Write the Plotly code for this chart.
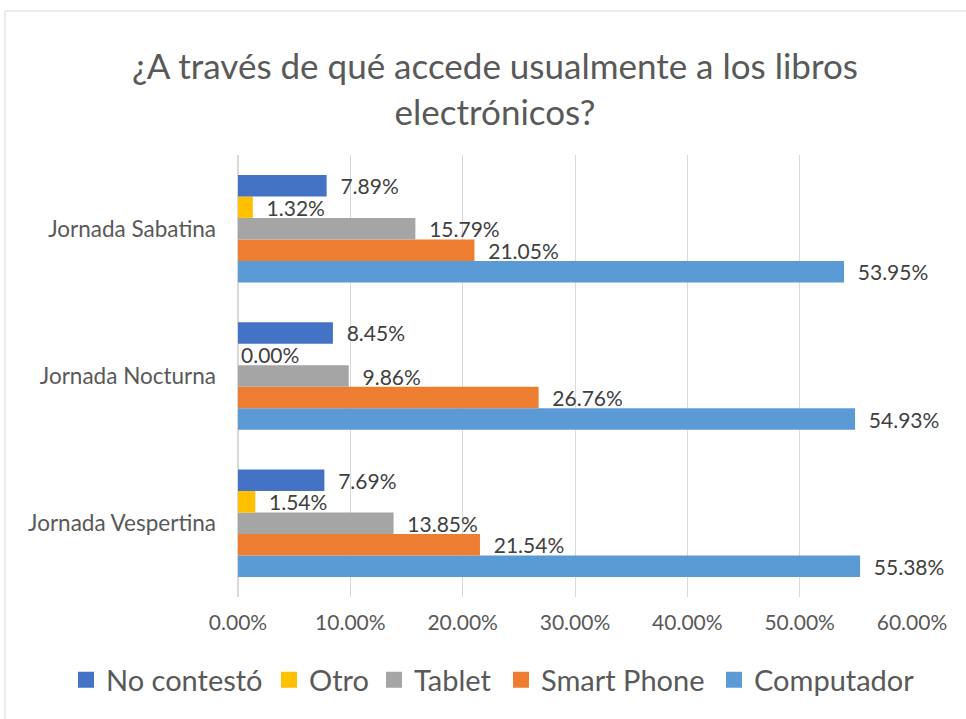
import plotly.graph_objects as go

categories = ["Jornada Vespertina", "Jornada Nocturna", "Jornada Sabatina"]
series_names = ["Computador", "Smart Phone", "Tablet", "Otro", "No contestó"]
computador = [0.5538, 0.5493, 0.5395]
smart_phone = [0.2154, 0.2676, 0.2105]
tablet = [0.1385, 0.0986, 0.1579]
otro = [0.0154, 0.0000, 0.0132]
no_contesto = [0.0769, 0.0845, 0.0789]
tick_vals = [0, 0.1, 0.2, 0.3, 0.4, 0.5, 0.6]

values = [computador, smart_phone, tablet, otro, no_contesto]
colors = ["#5B9BD5", "#ED7D31", "#A5A5A5", "#FFC000", "#4472C4"]
FONT = "Lato"
GAP = "\u00a0\u00a0"

W, H = 966, 719
l, r, t, b = 238, 54, 155, 122
pw, ph = W - l - r, H - t - b

fig = go.Figure()
for name, vals, col in zip(series_names, values, colors):
    fig.add_trace(go.Bar(
        y=categories, x=vals, name=name, orientation="h",
        marker=dict(color=col, line=dict(width=0)),
        text=[(GAP if v > 0 else "") + f"{v * 100:.2f}%" for v in vals],
        textposition="outside", texttemplate="%{text}",
        constraintext="none",
        textfont=dict(size=21, color="#404040", family=FONT),
        cliponaxis=False, showlegend=False, hoverinfo="x+name",
    ))

# legend entries (one legend per entry, positioned like the reference)
legend_order = ["No contestó", "Otro", "Tablet", "Smart Phone", "Computador"]
legend_text_x = [111, 314, 419, 546, 759]
layout_legends = {}
for i, (name, tx) in enumerate(zip(legend_order, legend_text_x)):
    key = "legend" if i == 0 else f"legend{i + 1}"
    col = colors[series_names.index(name)]
    fig.add_trace(go.Scatter(
        x=[None], y=[None], mode="markers", name=name,
        marker=dict(symbol="square", size=18, color=col),
        legend=key, showlegend=True, hoverinfo="skip",
    ))
    layout_legends[key] = dict(
        orientation="h", xref="container", yref="container",
        x=(tx - 45) / W, xanchor="left",
        y=1 - 680 / H, yanchor="middle",
        font=dict(size=29, color="#595959", family=FONT),
        bgcolor="rgba(0,0,0,0)", itemclick=False, itemdoubleclick=False,
    )

fig.update_layout(
    width=W, height=H,
    margin=dict(l=l, r=r, t=t, b=b),
    paper_bgcolor="white", plot_bgcolor="white",
    barmode="group", bargap=0.27, bargroupgap=0,
    font=dict(family=FONT, color="#595959"),
    title=dict(
        text="¿A través de qué accede usualmente a los libros<br>electrónicos?",
        x=495 / W, xanchor="center", xref="container",
        y=1 - 79 / H, yanchor="middle",
        font=dict(size=35, color="#595959", family=FONT),
    ),
    xaxis=dict(
        range=[0, 0.6], tickvals=tick_vals, tickformat=".2%",
        showgrid=True, gridcolor="#D9D9D9", gridwidth=1,
        zeroline=True, zerolinecolor="#D9D9D9",
        showline=False, ticks="", ticklabelstandoff=11,
        tickfont=dict(size=21, color="#595959", family=FONT),
    ),
    yaxis=dict(
        showgrid=False, showline=False, ticks="", ticklabelstandoff=21,
        tickfont=dict(size=22.5, color="#595959", family=FONT),
    ),
    showlegend=True,
    **layout_legends,
)

fig.add_shape(
    type="rect", xref="paper", yref="paper",
    x0=(5 - l) / pw, x1=(975 - l) / pw,
    y0=(H - b - 730) / ph, y1=(H - b - 11) / ph,
    line=dict(color="#D9D9D9", width=1), fillcolor="rgba(0,0,0,0)",
    layer="below",
)

fig.write_html(
    "out.html",
    config={"displayModeBar": False},
    post_script="document.body.style.margin='0';document.body.style.padding='0';",
)
